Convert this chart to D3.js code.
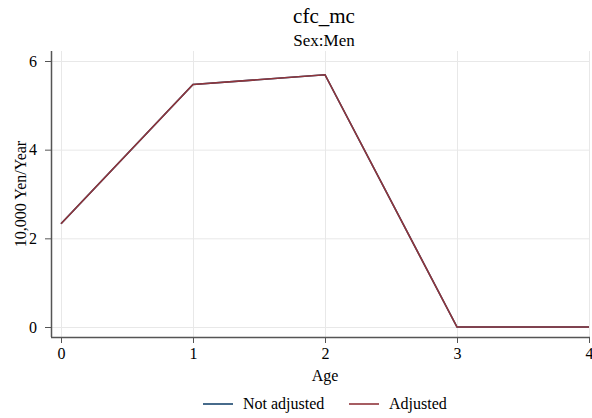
<!DOCTYPE html>
<html>
<head>
<meta charset="utf-8">
<script src="https://cdn.jsdelivr.net/npm/d3@7"></script>
<style>
  body { margin: 0; background: #fff; }
  svg text { font-family: "Liberation Serif", "Times New Roman", serif !important; fill: #000; }
</style>
</head>
<body>
<svg></svg>
<script>
const width = 592;
const height = 418;

// Data
const ages = [0, 1, 2, 3, 4];
const notAdjusted = [2.33, 5.47, 5.69, 0, 0];
const adjusted = [2.33, 5.47, 5.69, 0, 0];
const yTicks = [0, 2, 4, 6];

const series = [
  { name: "Not adjusted", values: notAdjusted, color: "#1a476f" },
  { name: "Adjusted", values: adjusted, color: "#90353b" },
];

const svg = d3.select("svg").attr("width", width).attr("height", height);

const x = d3.scaleLinear().domain([0, 4]).range([61, 589]);
const y = d3.scaleLinear().domain([0, 6]).range([327, 61]);

// Titles
svg.append("text")
  .attr("x", 324).attr("y", 23)
  .attr("text-anchor", "middle")
  .style("font-size", "21px")
  .text("cfc_mc");
svg.append("text")
  .attr("x", 324).attr("y", 46)
  .attr("text-anchor", "middle")
  .style("font-size", "17px")
  .text("Sex:Men");

// Grid
const grid = svg.append("g").style("stroke", "#e8e8e8").style("stroke-width", 1);
grid.selectAll(".gy").data(yTicks).join("line")
  .attr("x1", 51).attr("x2", 590)
  .attr("y1", (d) => y(d) + 0.5).attr("y2", (d) => y(d) + 0.5);
grid.selectAll(".gx").data(ages).join("line")
  .attr("x1", (d) => x(d) + 0.5).attr("x2", (d) => x(d) + 0.5)
  .attr("y1", 51).attr("y2", 337);

// Axes
const xAxis = svg.append("g")
  .attr("transform", "translate(0,337)")
  .call(d3.axisBottom(x).tickValues(ages).tickFormat(d3.format("d")).tickSize(6).tickPadding(5).tickSizeOuter(0));
xAxis.select(".domain").attr("d", "M51,0.5H590").style("stroke", "#555").style("stroke-width", 1.5);
xAxis.selectAll(".tick line").style("stroke", "#555");
xAxis.selectAll(".tick text").style("font-size", "16px");

const yAxis = svg.append("g")
  .attr("transform", "translate(51,0)")
  .call(d3.axisLeft(y).tickValues(yTicks).tickFormat(d3.format("d")).tickSize(6).tickPadding(8).tickSizeOuter(0));
yAxis.select(".domain").attr("d", "M0.5,51V337").style("stroke", "#555").style("stroke-width", 1.5);
yAxis.selectAll(".tick line").style("stroke", "#555");
yAxis.selectAll(".tick text").style("font-size", "16px");

// Axis titles
svg.append("text")
  .attr("x", 325).attr("y", 381)
  .attr("text-anchor", "middle")
  .style("font-size", "16px")
  .text("Age");
svg.append("text")
  .attr("transform", "translate(26,194) rotate(-90)")
  .attr("text-anchor", "middle")
  .style("font-size", "16px")
  .text("10,000 Yen/Year");

// Lines
const line = d3.line()
  .x((d, i) => x(ages[i]))
  .y((d) => y(d));

svg.append("g").selectAll("path")
  .data(series)
  .join("path")
  .attr("d", (d) => line(d.values))
  .attr("fill", "none")
  .attr("stroke", (d) => d.color)
  .attr("stroke-width", 1.6);

// Legend
const legendX = [203, 349];
const legend = svg.append("g").selectAll("g")
  .data(series)
  .join("g")
  .attr("transform", (d, i) => `translate(${legendX[i]},404)`);
legend.append("line")
  .attr("x1", 0).attr("x2", 30)
  .attr("stroke", (d) => d.color)
  .attr("stroke-width", 1.6);
legend.append("text")
  .attr("x", 40).attr("y", 5)
  .style("font-size", "16px")
  .text((d) => d.name);
</script>
</body>
</html>
